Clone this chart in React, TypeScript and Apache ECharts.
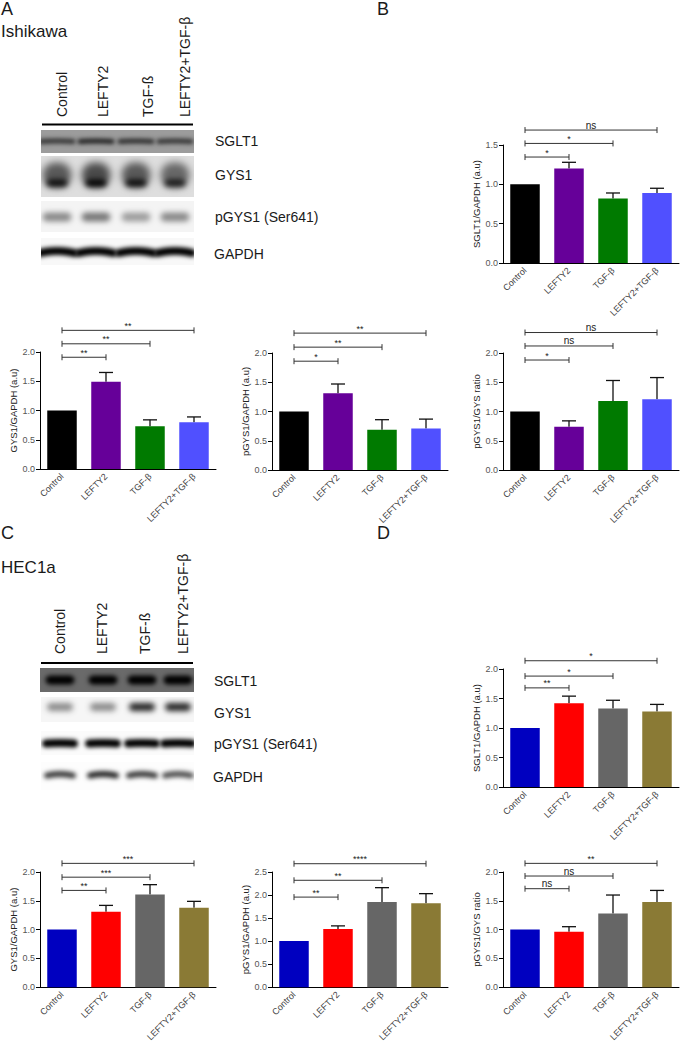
import React, { useEffect, useRef } from "react";
import * as echarts from "echarts";

const categories = ["Control", "LEFTY2", "TGF-β", "LEFTY2+TGF-β"];
const laneLabelsA = ["Control", "LEFTY2", "TGF-ß", "LEFTY2+TGF-β"];
const blotNames = ["SGLT1", "GYS1", "pGYS1 (Ser641)", "GAPDH"];
const colorsTop = ["#000000", "#660099", "#007a00", "#5050ff"];
const colorsBottom = ["#0000c0", "#ff0000", "#666666", "#8a7a35"];

const aSglt = [1.0, 1.2, 0.82, 0.89];
const aSgltTop = [1.0, 1.28, 0.89, 0.95];
const aSgltBr = [1.347, 1.52, 1.69];
const aGys = [1.0, 1.49, 0.73, 0.8];
const aGysTop = [1.0, 1.65, 0.84, 0.89];
const aGysBr = [1.91, 2.14, 2.37];
const aPgys = [1.0, 1.31, 0.69, 0.71];
const aPgysTop = [1.0, 1.47, 0.86, 0.87];
const aPgysBr = [1.86, 2.1, 2.34];
const aRatio = [1.0, 0.74, 1.18, 1.21];
const aRatioTop = [1.0, 0.84, 1.53, 1.58];
const aRatioBr = [1.88, 2.12, 2.35];
const cSglt = [1.0, 1.42, 1.33, 1.28];
const cSgltTop = [1.0, 1.54, 1.47, 1.4];
const cSgltBr = [1.68, 1.88, 2.14];
const cGys = [1.0, 1.31, 1.61, 1.38];
const cGysTop = [1.0, 1.42, 1.78, 1.49];
const cGysBr = [1.68, 1.91, 2.15];
const cPgys = [1.0, 1.26, 1.85, 1.82];
const cPgysTop = [1.0, 1.33, 2.16, 2.03];
const cPgysBr = [1.955, 2.32, 2.68];
const cRatio = [1.0, 0.96, 1.28, 1.48];
const cRatioTop = [1.0, 1.05, 1.6, 1.68];
const cRatioBr = [1.71, 1.93, 2.15];

const panels = [
  { name: "SGLT1/GAPDH (a.u)", v: aSglt, t: aSgltTop, b: aSgltBr, s: ["*", "*", "ns"], c: colorsTop, max: 1.5, x: 503, top: 145, bottom: 263 },
  { name: "GYS1/GAPDH (a.u)", v: aGys, t: aGysTop, b: aGysBr, s: ["**", "**", "**"], c: colorsTop, max: 2, x: 40, top: 352, bottom: 469 },
  { name: "pGYS1/GAPDH (a.u)", v: aPgys, t: aPgysTop, b: aPgysBr, s: ["*", "**", "**"], c: colorsTop, max: 2, x: 272, top: 353, bottom: 470 },
  { name: "pGYS1/GYS ratio", v: aRatio, t: aRatioTop, b: aRatioBr, s: ["*", "ns", "ns"], c: colorsTop, max: 2, x: 503, top: 353, bottom: 470 },
  { name: "SGLT1/GAPDH (a.u)", v: cSglt, t: cSgltTop, b: cSgltBr, s: ["**", "*", "*"], c: colorsBottom, max: 2, x: 503, top: 669, bottom: 787 },
  { name: "GYS1/GAPDH (a.u)", v: cGys, t: cGysTop, b: cGysBr, s: ["**", "***", "***"], c: colorsBottom, max: 2, x: 40, top: 872, bottom: 989 },
  { name: "pGYS1/GAPDH (a.u)", v: cPgys, t: cPgysTop, b: cPgysBr, s: ["**", "**", "****"], c: colorsBottom, max: 2.5, x: 272, top: 872, bottom: 988 },
  { name: "pGYS1/GYS ratio", v: cRatio, t: cRatioTop, b: cRatioBr, s: ["ns", "ns", "**"], c: colorsBottom, max: 2, x: 503, top: 872, bottom: 989 },
];

const FONT = "'Liberation Sans', Arial, sans-serif";

type Layer = { cy: number; len: number; thick: number; blur: number; curve: number; color: string };
type Blot = { x: number; y: number; w: number; h: number; bg: string; lanes: number[]; power: number[]; layers: Layer[] };

const lanesA = [57, 96, 136, 175];
const lanesC = [60, 103, 142, 178];
const blots: Blot[] = [
  { x: 41, y: 130, w: 153, h: 23, bg: "#9c9c9c", lanes: lanesA, power: [0.85, 1, 0.9, 0.85], layers: [{ cy: 141, len: 32, thick: 5, blur: 2, curve: 0.5, color: "#222" }] },
  { x: 41, y: 156, w: 153, h: 41, bg: "#dedede", lanes: lanesA, power: [0.9, 1, 0.9, 0.8], layers: [{ cy: 175, len: 4, thick: 25, blur: 4, curve: 0, color: "#4a4a4a" }, { cy: 183, len: 14, thick: 7, blur: 3, curve: 0, color: "#000" }] },
  { x: 41, y: 201, w: 153, h: 31, bg: "#f4f4f4", lanes: lanesA, power: [0.85, 1, 0.7, 0.85], layers: [{ cy: 217, len: 20, thick: 9, blur: 3, curve: 0, color: "#777" }] },
  { x: 41, y: 238, w: 153, h: 27, bg: "#f8f8f8", lanes: lanesA, power: [1, 1, 1, 1], layers: [{ cy: 251, len: 34, thick: 8, blur: 2, curve: 2, color: "#000" }] },
  { x: 40, y: 668, w: 154, h: 24, bg: "#6a6a6a", lanes: lanesC, power: [1, 1, 1, 1], layers: [{ cy: 680, len: 20, thick: 9, blur: 2.5, curve: 0, color: "#000" }] },
  { x: 41, y: 697, w: 153, h: 25, bg: "#f6f6f6", lanes: lanesC, power: [0.5, 0.5, 1, 1], layers: [{ cy: 707, len: 18, thick: 8, blur: 3, curve: 0, color: "#222" }] },
  { x: 41, y: 731, w: 153, h: 24, bg: "#fbfbfb", lanes: lanesC, power: [1, 1, 1, 1], layers: [{ cy: 743, len: 28, thick: 8, blur: 2, curve: 0.5, color: "#000" }] },
  { x: 41, y: 762, w: 153, h: 28, bg: "#fdfdfd", lanes: lanesC, power: [0.9, 1, 0.9, 0.8], layers: [{ cy: 774, len: 26, thick: 6, blur: 2.5, curve: 1.5, color: "#222" }] },
];

function blotImage(b: Blot): string {
  const k = 2;
  const c = document.createElement("canvas");
  c.width = b.w * k;
  c.height = b.h * k;
  const g = c.getContext("2d") as CanvasRenderingContext2D;
  g.scale(k, k);
  g.fillStyle = b.bg;
  g.fillRect(0, 0, b.w, b.h);
  b.lanes.forEach((lane, i) => {
    b.layers.forEach((l) => {
      g.filter = `blur(${l.blur * k}px)`;
      g.globalAlpha = b.power[i];
      g.strokeStyle = l.color;
      g.lineWidth = l.thick;
      g.lineCap = "round";
      const cx = lane - b.x;
      const cy = l.cy - b.y;
      g.beginPath();
      g.moveTo(cx - l.len / 2, cy + l.curve);
      g.quadraticCurveTo(cx, cy - l.curve, cx + l.len / 2, cy + l.curve);
      g.stroke();
    });
  });
  return c.toDataURL("image/png");
}

const label = (text: string, x: number, y: number, fontSize: number, extra: any = {}) => ({
  type: "text",
  x,
  y,
  z: 10,
  ...extra,
  style: { text, x: 0, y: 0, fontSize, fontFamily: FONT, fill: "#1a1a1a", ...(extra.style || {}) },
});

const laneLabel = (text: string, x: number, bottom: number) =>
  label(text, x, bottom, 14, {
    rotation: Math.PI / 2,
    style: { align: "left", verticalAlign: "middle" },
  });

function buildOption() {
  const grid: any[] = [];
  const xAxis: any[] = [];
  const yAxis: any[] = [];
  const series: any[] = [];
  panels.forEach((p, i) => {
    grid.push({ left: p.x, top: p.top, width: 176, height: p.bottom - p.top, containLabel: false });
    xAxis.push({
      type: "category",
      gridIndex: i,
      data: categories,
      axisLine: { lineStyle: { color: "#000", width: 1 } },
      axisTick: { alignWithLabel: true, length: 4, lineStyle: { color: "#000" } },
      axisLabel: { rotate: 45, fontSize: 9, fontFamily: FONT, color: "#444", margin: 6, interval: 0 },
    });
    yAxis.push({
      type: "value",
      gridIndex: i,
      min: 0,
      max: p.max,
      interval: 0.5,
      name: p.name,
      nameLocation: "middle",
      nameGap: 22,
      nameTextStyle: { fontSize: 9.5, fontFamily: FONT, color: "#222" },
      axisLine: { show: true, lineStyle: { color: "#000", width: 1 } },
      axisTick: { show: true, length: 4, lineStyle: { color: "#000" } },
      axisLabel: { fontSize: 9, fontFamily: FONT, color: "#555", margin: 5, formatter: (v: number) => v.toFixed(1) },
      splitLine: { show: false },
    });
    series.push({
      type: "bar",
      xAxisIndex: i,
      yAxisIndex: i,
      barWidth: 29.5,
      data: p.v.map((value, k) => ({ value, itemStyle: { color: p.c[k] } })),
    });
    series.push({
      type: "custom",
      xAxisIndex: i,
      yAxisIndex: i,
      z: 1,
      data: p.v.map((value, k) => [k, value, p.t[k]]).filter((d) => d[2] > d[1]),
      renderItem: (_: any, api: any) => {
        const a = api.coord([api.value(0), api.value(1)]);
        const b = api.coord([api.value(0), api.value(2)]);
        const st = { stroke: "#111", lineWidth: 1.3, fill: "none" };
        return {
          type: "group",
          children: [
            { type: "line", shape: { x1: a[0], y1: a[1], x2: b[0], y2: b[1] }, style: st },
            { type: "line", shape: { x1: a[0] - 7, y1: b[1], x2: a[0] + 7, y2: b[1] }, style: st },
          ],
        };
      },
    });
    series.push({
      type: "custom",
      xAxisIndex: i,
      yAxisIndex: i,
      clip: false,
      data: p.b.map((y, k) => [0, k + 1, y, p.s[k]]),
      renderItem: (_: any, api: any) => {
        const a = api.coord([api.value(0), api.value(2)]);
        const b = api.coord([api.value(1), api.value(2)]);
        const txt = String(api.value(3));
        const st = { stroke: "#333", lineWidth: 1, fill: "none" };
        return {
          type: "group",
          children: [
            { type: "line", shape: { x1: a[0], y1: a[1], x2: b[0], y2: b[1] }, style: st },
            { type: "line", shape: { x1: a[0], y1: a[1] - 3, x2: a[0], y2: a[1] + 3 }, style: st },
            { type: "line", shape: { x1: b[0], y1: b[1] - 3, x2: b[0], y2: b[1] + 3 }, style: st },
            {
              type: "text",
              x: (a[0] + b[0]) / 2,
              y: a[1],
              style: { text: txt, fontSize: txt === "ns" ? 10 : 9, fontFamily: FONT, fill: "#222", align: "center", verticalAlign: "bottom" },
            },
          ],
        };
      },
      encode: { x: 0, y: 2 },
    });
  });

  const graphic: any[] = [
    ...blots.map((b) => ({ type: "image", x: b.x, y: b.y, z: 1, style: { image: blotImage(b), x: 0, y: 0, width: b.w, height: b.h } })),
    { type: "rect", shape: { x: 42, y: 123.5, width: 151, height: 2 }, style: { fill: "#000" } },
    { type: "rect", shape: { x: 41, y: 662, width: 152, height: 2 }, style: { fill: "#000" } },
    label("A", 1, 0, 18),
    label("B", 377, 0, 18),
    label("C", 1, 524, 18),
    label("D", 377, 524, 18),
    label("Ishikawa", 1, 23, 17),
    label("HEC1a", 1, 559, 17),
    laneLabel(laneLabelsA[0], 62, 117),
    laneLabel(laneLabelsA[1], 103, 117),
    laneLabel(laneLabelsA[2], 148, 117),
    laneLabel(laneLabelsA[3], 185, 117),
    laneLabel(laneLabelsA[0], 60, 654),
    laneLabel(laneLabelsA[1], 102, 654),
    laneLabel(laneLabelsA[2], 145, 654),
    laneLabel(laneLabelsA[3], 183, 654),
    label(blotNames[0], 215, 134, 14),
    label(blotNames[1], 215, 168, 14),
    label(blotNames[2], 215, 210, 14),
    label(blotNames[3], 214, 247, 14),
    label(blotNames[0], 214, 674, 14),
    label(blotNames[1], 214, 706, 14),
    label(blotNames[2], 214, 737, 14),
    label(blotNames[3], 213, 770, 14),
  ];
  return { animation: false, backgroundColor: "#fff", grid, xAxis, yAxis, series, graphic };
}

export default function App() {
  const ref = useRef<HTMLDivElement>(null);
  useEffect(() => {
    const chart = echarts.init(ref.current as HTMLDivElement, undefined, { renderer: "svg" });
    chart.setOption(buildOption() as any);
    return () => chart.dispose();
  }, []);
  return <div ref={ref} style={{ position: "absolute", left: 0, top: 0, width: 681, height: 1044 }} />;
}
